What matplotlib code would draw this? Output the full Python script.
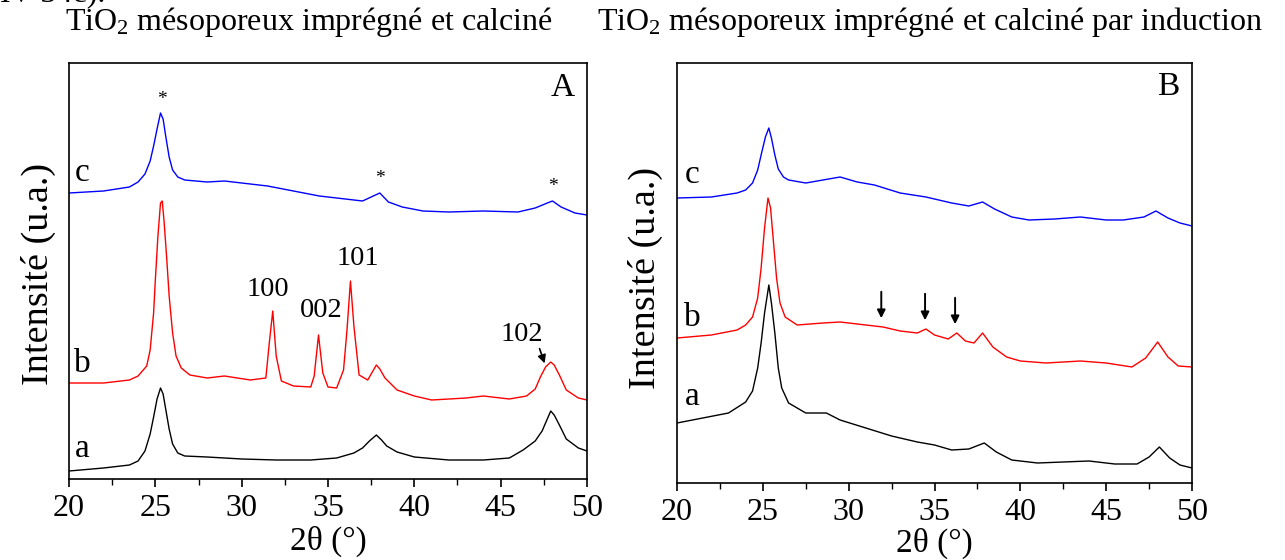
import matplotlib
matplotlib.use("Agg")
import matplotlib.pyplot as plt
from matplotlib.ticker import MultipleLocator

plt.rcParams['font.family'] = ['Liberation Serif', 'DejaVu Serif']
plt.rcParams['mathtext.fontset'] = 'custom'
plt.rcParams['mathtext.rm'] = 'Liberation Serif'
plt.rcParams['mathtext.it'] = 'Liberation Serif:italic'

# --- Panneau A : TiO2 mésoporeux imprégné et calciné ---
A_a_2t = [20, 22, 23.5, 24.0, 24.4, 24.7, 24.9, 25.1, 25.3, 25.45, 25.6, 25.8, 26.0, 26.3, 26.7, 28, 30,
          32, 34, 35.5, 36.5, 37.0, 37.4, 37.8, 38.1, 38.4, 39, 40, 42, 44, 45.5, 46.3, 47, 47.4,
          47.7, 47.9, 48.1, 48.4, 48.8, 49.5, 50]
A_a_int = [8, 11, 14, 18, 28, 45, 62, 80, 91, 85, 70, 50, 35, 26, 23, 22, 20,
           19, 19, 21, 26, 31, 38, 44, 39, 33, 27, 22, 19, 19, 21, 29, 38, 48,
           60, 68, 64, 54, 40, 31, 28]

A_b_2t = [20, 22, 23.5, 24.0, 24.5, 24.7, 24.9, 25.0, 25.15, 25.3, 25.4, 25.5, 25.65, 25.8, 26.0,
          26.2, 26.5, 27, 28, 29, 30.5, 31.4, 31.6, 31.8, 32.0, 32.3, 33, 34, 34.2, 34.45, 34.7, 35,
          35.5, 35.9, 36.1, 36.3, 36.5, 36.8, 37.3, 37.6, 37.8, 38.0, 38.3, 39, 40, 41, 43, 44, 45.5,
          46.5, 47.0, 47.3, 47.6, 47.9, 48.1, 48.4, 48.8, 49.5, 50]
A_b_int = [96, 96, 99, 103, 113, 129, 166, 199, 243, 276, 278, 259, 223, 183, 146,
           123, 111, 104, 101, 103, 99, 101, 136, 168, 123, 98, 93, 92, 103, 144, 106, 92,
           91, 109, 149, 198, 153, 104, 99, 108, 114, 110, 101, 89, 83, 79, 81, 83, 80,
           83, 90, 102, 112, 117, 114, 104, 89, 81, 79]

A_c_2t = [20, 22, 23.5, 24.0, 24.4, 24.7, 24.9, 25.1, 25.3, 25.45, 25.6, 25.8, 26.0, 26.3, 26.7, 28,
          29, 30, 31.5, 33, 34.5, 36, 37, 37.5, 38, 38.5, 39.3, 40.5, 42, 44, 46, 47, 47.7, 48.0,
          48.5, 49.3, 50]
A_c_int = [286, 288, 292, 297, 305, 318, 333, 350, 366, 360, 343, 322, 309, 302, 299, 297,
           298, 296, 293, 288, 283, 280, 278, 282, 286, 277, 272, 268, 267, 268, 267, 271, 276, 278,
           272, 266, 264]

# --- Panneau B : TiO2 mésoporeux imprégné et calciné par induction ---
B_a_2t = [20, 21.5, 23, 24.0, 24.4, 24.7, 24.9, 25.1, 25.35, 25.5, 25.7, 25.9, 26.1, 26.5, 27.5, 28.7,
          29.5, 31, 32.5, 34, 35, 36, 37, 37.9, 38.6, 39.5, 41, 42.5, 44, 45.5, 46.8, 47.5, 48.1,
          48.7, 49.3, 50]
B_a_int = [60, 65, 70, 81, 92, 115, 140, 170, 198, 180, 150, 115, 95, 80, 70, 70,
           63, 55, 47, 41, 38, 33, 34, 40, 31, 23, 20, 21, 22, 19, 19, 26, 36,
           25, 18, 15]

B_b_2t = [20, 22, 23.5, 24.0, 24.4, 24.7, 24.9, 25.1, 25.3, 25.45, 25.6, 25.8, 26.0, 26.3, 27, 28.5,
          29.5, 31, 32, 33, 34, 34.5, 35, 35.8, 36.3, 36.8, 37.3, 37.8, 38.4, 39.2, 40, 41.5, 43.5,
          45, 46.5, 47.3, 48.0, 48.6, 49.2, 50]
B_b_int = [145, 148, 153, 158, 166, 185, 215, 255, 285, 275, 245, 205, 180, 166, 158, 160,
           161, 158, 156, 152, 150, 154, 148, 144, 150, 142, 140, 150, 136, 126, 122, 120, 122,
           120, 116, 125, 141, 126, 117, 116]

B_c_2t = [20, 22, 23.5, 24.0, 24.4, 24.7, 24.9, 25.15, 25.35, 25.5, 25.7, 25.9, 26.2, 26.5, 27.5,
          28.5, 29.5, 30.5, 31.5, 33, 34.5, 36, 37, 37.8, 38.5, 39.5, 40.5, 42, 43.5, 45, 46, 47.2,
          47.9, 48.6, 49.3, 50]
B_c_int = [285, 286, 290, 293, 300, 313, 328, 346, 355, 345, 328, 314, 306, 303, 300,
           303, 306, 301, 298, 290, 286, 280, 277, 281, 274, 266, 263, 264, 266, 263, 263, 266,
           272, 265, 260, 257]

raies_A = ['100', '002', '101', '102']
fleches_B = [31.9, 34.45, 36.2]

W, H = 1285, 560
fig = plt.figure(figsize=(W / 100, H / 100), dpi=100)


def panneau(x0, x1, y_top, y_bot, ymax):
    ax = fig.add_axes([x0 / W, (H - y_bot) / H, (x1 - x0) / W, (y_bot - y_top) / H])
    ax.set_xlim(20, 50)
    ax.set_ylim(0, ymax)
    ax.set_yticks([])
    ax.xaxis.set_major_locator(MultipleLocator(5))
    ax.xaxis.set_minor_locator(MultipleLocator(2.5))
    ax.tick_params(axis='x', which='major', direction='out', length=6, width=1.2,
                   labelsize=23, pad=5, top=False)
    ax.tick_params(axis='x', which='minor', direction='out', length=4, width=1.0, top=False)
    for s in ax.spines.values():
        s.set_linewidth(1.2)
    return ax


# Panneau A
axA = panneau(69, 587, 63, 479, 416)
axA.plot(A_a_2t, A_a_int, color='black', lw=1.0)
axA.plot(A_b_2t, A_b_int, color='red', lw=1.0)
axA.plot(A_c_2t, A_c_int, color='blue', lw=1.0)
axA.text(20.75, 30, 'a', fontsize=24, ha='center', va='center')
axA.text(20.75, 115, 'b', fontsize=24, ha='center', va='center')
axA.text(20.75, 306, 'c', fontsize=24, ha='center', va='center')
axA.text(48.6, 391, 'A', fontsize=24, ha='center', va='center')
for x, y in [(25.4, 379), (38.0, 300), (48.0, 292)]:
    axA.text(x, y, '*', fontsize=14, ha='center', va='center')
axA.text(31.5, 189, raies_A[0], fontsize=20.5, ha='center', va='center')
axA.text(34.6, 168, raies_A[1], fontsize=20.5, ha='center', va='center')
axA.text(36.7, 220, raies_A[2], fontsize=20.5, ha='center', va='center')
axA.text(46.2, 144, raies_A[3], fontsize=20.5, ha='center', va='center')
axA.annotate('', xy=(47.6, 113), xytext=(47.2, 133),
             arrowprops=dict(arrowstyle='-|>', color='black', lw=1.2, mutation_scale=12))
axA.set_xlabel('2θ (°)', fontsize=24, labelpad=2)

# Panneau B
axB = panneau(677, 1192, 63, 483, 420)
axB.plot(B_a_2t, B_a_int, color='black', lw=1.0)
axB.plot(B_b_2t, B_b_int, color='red', lw=1.0)
axB.plot(B_c_2t, B_c_int, color='blue', lw=1.0)
axB.text(20.9, 86, 'a', fontsize=24, ha='center', va='center')
axB.text(20.9, 165, 'b', fontsize=24, ha='center', va='center')
axB.text(20.9, 308, 'c', fontsize=24, ha='center', va='center')
axB.text(48.6, 396, 'B', fontsize=24, ha='center', va='center')
for x in fleches_B:
    y_int = B_b_int[min(range(len(B_b_2t)), key=lambda i: abs(B_b_2t[i] - x))]
    axB.annotate('', xy=(x, y_int + 6), xytext=(x, y_int + 38),
                 arrowprops=dict(arrowstyle='-|>', color='black', lw=1.4, mutation_scale=12))
axB.set_xlabel('2θ (°)', fontsize=24, labelpad=0)

# Textes de la figure
fig.text(38 / W, 1 - 274 / H, 'Intensité (u.a.)', rotation=90, fontsize=27.5, ha='center', va='center')
fig.text(645 / W, 1 - 278 / H, 'Intensité (u.a.)', rotation=90, fontsize=27.5, ha='center', va='center')
fig.text(309 / W, 1 - 22 / H, 'TiO$_2$ mésoporeux imprégné et calciné', fontsize=23, ha='center', va='center')
fig.text(930 / W, 1 - 22 / H, 'TiO$_2$ mésoporeux imprégné et calciné par induction', fontsize=23,
         ha='center', va='center')
fig.text(0.0, 1 + 6 / H, 'IV-34c).', fontsize=23, ha='left', va='center')

fig.savefig('out.png', dpi=100)
